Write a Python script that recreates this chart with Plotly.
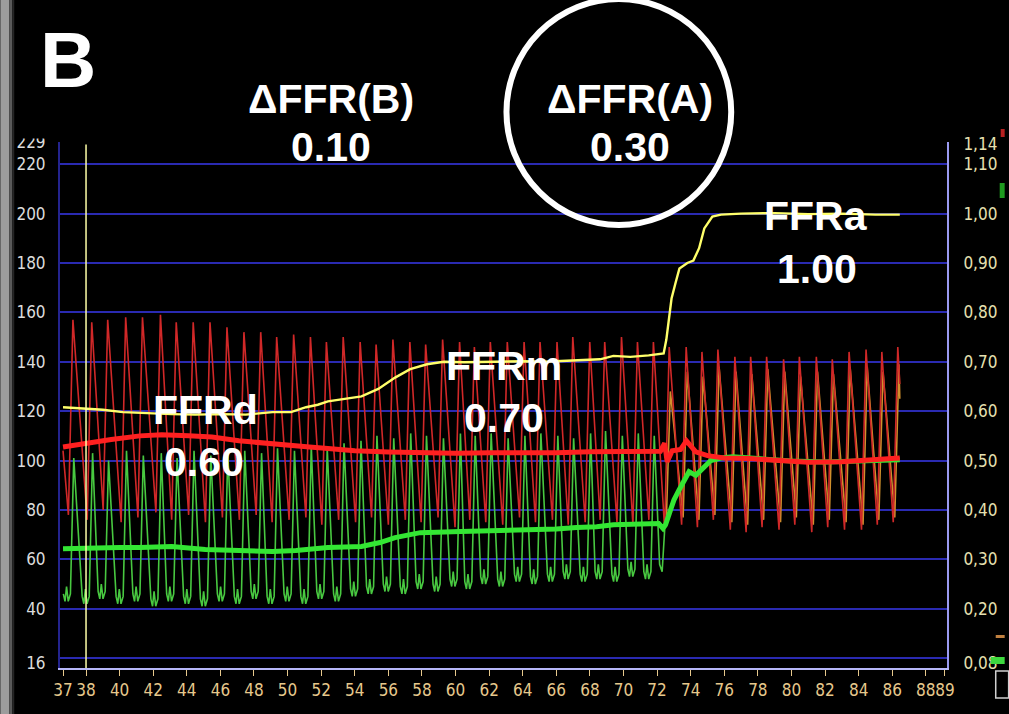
import plotly.graph_objects as go

# ---------------- data ----------------
# beat (systolic peak) times of the aortic pressure trace, seconds
pa_peak_t = [37.22, 38.34, 39.29, 40.36, 41.36, 42.43, 43.37, 44.38, 45.38, 46.39,
             47.40, 48.40, 49.35, 50.36, 51.36, 52.31, 53.31, 54.32, 55.27, 56.27,
             57.28, 58.22, 59.23, 60.24, 61.12, 62.07, 63.08, 64.08, 65.03, 66.04,
             66.98, 67.99, 68.88, 69.88, 70.83, 71.78, 72.72, 73.73, 74.67, 75.62,
             76.63, 77.57, 78.52, 79.53, 80.47, 81.48, 82.43, 83.43, 84.44, 85.38,
             86.33]
# aortic pressure (Pa) per beat, mmHg
pa_systolic = [157, 156, 157, 158, 158, 159, 156, 156, 156, 154,
               152, 152, 150, 151, 150, 148, 150, 148, 147, 149,
               148, 147, 149, 148, 146, 148, 148, 148, 148, 148,
               150, 148, 148, 150, 148, 148, 146, 146, 144, 145,
               142, 142, 142, 141, 142, 142, 141, 144, 145, 144,
               146]
pa_diastolic = [78, 76, 80, 75, 77, 79, 76, 78, 75, 77,
                76, 78, 75, 76, 77, 74, 76, 75, 77, 74,
                76, 75, 77, 73, 76, 75, 74, 77, 75, 76,
                74, 75, 76, 75, 74, 76, 72, 74, 73, 76,
                72, 71, 73, 72, 74, 71, 73, 72, 72, 74,
                75]
pa_start = (36.63, 104)
pa_end = (86.45, 131)

# distal pressure (Pd) per beat before the pullback (first 36 beats)
pd_systolic = [101, 103, 100, 104, 102, 103, 101, 104, 102, 103,
               104, 103, 105, 104, 106, 105, 107, 108, 110, 109,
               111, 110, 109, 111, 110, 111, 109, 110, 111, 110,
               109, 111, 112, 110, 111, 110]
pd_diastolic = [43, 42, 44, 42, 43, 41, 43, 42, 41, 43,
                42, 44, 42, 43, 42, 44, 43, 45, 46, 47,
                46, 48, 47, 49, 48, 50, 49, 51, 50, 51,
                52, 51, 52, 51, 53, 52]
pd_tail_t = [72.15, 72.30, 72.45]
pd_tail_v = [58, 55, 72]
# Pd after the sensor reaches the aorta (beats 37-51)
pd_post_systolic = [128, 136, 134, 138, 136, 135, 137, 136, 134, 136, 135, 137, 138, 136, 139]
pd_post_diastolic = [74, 77, 76, 78, 75, 74, 76, 75, 77, 74, 76, 75, 74, 76, 77]

# mean aortic pressure (Pa mean), mmHg
pa_mean_t = [36.63, 38.2, 39.5, 41.2, 42.5, 44.1, 45.5, 47.1, 48.5, 50.1,
             51.3, 52.4, 54.0, 56.0, 58.0, 60.0, 62.0, 64.0, 66.0, 68.0,
             70.0, 71.5, 72.2, 72.45, 72.6, 72.9, 73.4, 73.75, 74.3, 75.0,
             76.0, 77.5, 79.0, 81.0, 83.0, 85.0, 86.45]
pa_mean_v = [105.5, 107.4, 108.5, 110, 110.5, 110, 109.5, 108, 107, 106,
             105.5, 104.9, 104, 103.5, 103.2, 103, 103.2, 103, 103.2, 103.6,
             103.8, 104, 103.8, 107, 99.5, 104, 104.5, 108, 103.5, 102,
             101, 100.8, 100, 99.3, 99.5, 100.3, 101]

# mean distal pressure (Pd mean), mmHg
pd_mean_t = [36.63, 38.5, 40.0, 41.2, 43.1, 45.1, 47.0, 49.1, 50.5, 52.4,
             54.4, 55.5, 56.4, 57.9, 60.3, 62.3, 64.3, 66.0, 67.2, 68.4,
             69.4, 70.4, 71.5, 72.1, 72.35, 72.5, 72.75, 73.0, 73.3, 73.6,
             73.9, 74.3, 74.7, 75.2, 75.8, 76.5, 78.0, 80.0, 82.0, 84.0,
             86.45]
pd_mean_v = [64.3, 64.8, 64.8, 64.8, 65.2, 64.0, 63.8, 63.2, 63.6, 64.8,
             65.2, 66.8, 68.8, 70.8, 71.3, 71.6, 72.0, 72.3, 72.9, 73.2,
             74.0, 74.0, 74.2, 74.5, 72.5, 74.0, 79.0, 84.0, 88.0, 92.0,
             95.5, 94.0, 97.0, 100.0, 101.0, 101.5, 100.8, 99.8, 99.4, 99.6,
             100.3]

# FFR = Pd/Pa during the pullback
ffr_t = [36.63, 37.8, 39.0, 40.2, 41.5, 43.1, 44.5, 46.1, 47.5, 49.1,
         50.2, 51.1, 51.8, 52.4, 53.4, 54.4, 55.4, 56.4, 57.3, 58.3,
         59.3, 60.5, 62.3, 64.0, 65.3, 67.2, 68.6, 69.4, 70.4, 71.5,
         72.2, 72.39, 72.55, 72.72, 72.86, 73.1, 73.33, 73.8, 74.16, 74.5,
         74.81, 75.29, 75.8, 77.0, 79.0, 81.0, 83.0, 85.0, 86.45]
ffr_v = [0.608, 0.605, 0.603, 0.598, 0.596, 0.594, 0.593, 0.594, 0.593, 0.598,
         0.598, 0.608, 0.613, 0.620, 0.625, 0.630, 0.645, 0.668, 0.685, 0.695,
         0.700, 0.699, 0.700, 0.701, 0.700, 0.703, 0.705, 0.712, 0.710, 0.713,
         0.715, 0.717, 0.745, 0.785, 0.828, 0.86, 0.889, 0.900, 0.905, 0.93,
         0.970, 0.994, 0.998, 1.000, 1.001, 0.999, 1.000, 0.998, 0.998]

ffr_distal = 0.60
ffr_mid = 0.70
ffr_aorta = 1.00
cursor_t = 38

# axis ticks as printed by the console
x_tick_vals = [36.63, 38] + list(range(40, 88, 2)) + [88, 89.14]
x_tick_text = ["37", "38"] + [str(v) for v in range(40, 88, 2)] + ["88", "89"]
y_label_vals = [18, 40, 60, 80, 100, 120, 140, 160, 180, 200, 220, 229]
y_label_text = ["16", "40", "60", "80", "100", "120", "140", "160", "180", "200", "220", "229"]
y_grid_vals = [20, 40, 60, 80, 100, 120, 140, 160, 180, 200, 220, 229]
r_label_vals = [0.09, 0.2, 0.3, 0.4, 0.5, 0.6, 0.7, 0.8, 0.9, 1.0, 1.1, 1.14]
r_label_text = ["0,08", "0,20", "0,30", "0,40", "0,50", "0,60", "0,70", "0,80",
                "0,90", "1,00", "1,10", "1,14"]

# ---------------- waveform assembly ----------------
PA_RISE = 0.27           # upstroke duration of the aortic pulse
PD_LAG = 0.05            # distal pulse arrives slightly later
PD_FOOT_DT = [-0.62, -0.52, -0.43, -0.33, -0.20]   # notched diastolic foot of Pd
PD_FOOT_DV = [3, 0, 6, 0, 3]
POST_LAG = 0.07
POST_RISE = 0.25

pa_x, pa_y = [pa_start[0]], [pa_start[1]]
for t, s, d in zip(pa_peak_t, pa_systolic, pa_diastolic):
    pa_x += [t - PA_RISE, t]
    pa_y += [d, s]
pa_x.append(pa_end[0])
pa_y.append(pa_end[1])

pd_x, pd_y = [], []
for t, s, d in zip(pa_peak_t[:len(pd_systolic)], pd_systolic, pd_diastolic):
    tp = t + PD_LAG
    for dt, dv in zip(PD_FOOT_DT, PD_FOOT_DV):
        pd_x.append(tp + dt)
        pd_y.append(d + dv)
    pd_x.append(tp)
    pd_y.append(s)
pd_x += pd_tail_t
pd_y += pd_tail_v

post_x, post_y = [], []
for t, s, d in zip(pa_peak_t[len(pd_systolic):], pd_post_systolic, pd_post_diastolic):
    tp = t + POST_LAG
    post_x += [tp - POST_RISE, tp]
    post_y += [d, s]
post_x.append(pa_end[0])
post_y.append(pa_end[1] - 6)

# ---------------- figure ----------------
fig = go.Figure()
fig.add_trace(go.Scatter(x=pd_x, y=pd_y, mode="lines",
                         line=dict(color="#48c840", width=1.6), hoverinfo="skip"))
fig.add_trace(go.Scatter(x=post_x, y=post_y, mode="lines",
                         line=dict(color="#d0902c", width=1.6), hoverinfo="skip"))
fig.add_trace(go.Scatter(x=pa_x, y=pa_y, mode="lines",
                         line=dict(color="#d02828", width=1.6), hoverinfo="skip"))
fig.add_trace(go.Scatter(x=pd_mean_t, y=pd_mean_v, mode="lines",
                         line=dict(color="#33e633", width=5), hoverinfo="skip"))
fig.add_trace(go.Scatter(x=pa_mean_t, y=pa_mean_v, mode="lines",
                         line=dict(color="#ff2020", width=5), hoverinfo="skip"))
fig.add_trace(go.Scatter(x=ffr_t, y=ffr_v, mode="lines", yaxis="y2",
                         line=dict(color="#ffff6a", width=2.4), hoverinfo="skip"))

# plot-area geometry (pixels) for placing decorations
L, R, T, B = 60, 952, 142, 668
W, H = 1009, 714


def pxx(xp):
    return (xp - L) / (R - L)


def pxy(yp):
    return (B - yp) / (B - T)


tick_font = dict(family="Liberation Sans Narrow, DejaVu Sans Condensed, Arial Narrow, sans-serif",
                 size=17)

fig.update_layout(
    width=W, height=H,
    margin=dict(l=L, r=W - R, t=T, b=H - B),
    paper_bgcolor="black", plot_bgcolor="black",
    showlegend=False,
    xaxis=dict(range=[36.45, 89.26], tickmode="array", tickvals=x_tick_vals,
               ticktext=x_tick_text, tickangle=0, ticks="outside", ticklen=6, tickwidth=1,
               tickcolor="#e6c88c", tickfont=dict(color="#e6c88c", **tick_font),
               showgrid=False, zeroline=False, showline=True,
               linecolor="#b8b8f8", linewidth=2),
    yaxis=dict(range=[16, 229], tickmode="array", tickvals=y_label_vals,
               ticktext=y_label_text, ticks="", ticklabelstandoff=9,
               tickfont=dict(color="#dcdcdc", **tick_font),
               showgrid=False, zeroline=False, showline=True,
               linecolor="#24248e", linewidth=2,
               minor=dict(tickmode="array", tickvals=y_grid_vals, showgrid=True,
                          gridcolor="#2a2ab2", gridwidth=2, ticks="")),
    yaxis2=dict(range=[16 / 200, 229 / 200], overlaying="y", side="right",
                tickmode="array", tickvals=r_label_vals, ticktext=r_label_text,
                ticks="", ticklabelstandoff=11,
                tickfont=dict(color="#e6e0b0", **tick_font),
                showgrid=False, zeroline=False, showline=True,
                linecolor="#9a9af0", linewidth=2),
)

shapes = [
    # position cursor
    dict(type="line", xref="x", yref="y", x0=cursor_t, x1=cursor_t, y0=16, y1=228,
         line=dict(color="#ffffa8", width=1.5), layer="above"),
    # mask clipping the top of the first label
    dict(type="rect", xref="paper", yref="paper", x0=pxx(0), x1=pxx(56),
         y0=pxy(138.5), y1=pxy(0), fillcolor="black", line=dict(width=0), layer="above"),
    # film edge on the left
    dict(type="rect", xref="paper", yref="paper", x0=pxx(0), x1=pxx(9),
         y0=pxy(H), y1=pxy(0), fillcolor="#9c9c9c", line=dict(width=0), layer="above"),
    dict(type="rect", xref="paper", yref="paper", x0=pxx(9), x1=pxx(12),
         y0=pxy(H), y1=pxy(0), fillcolor="#5a5a5a", line=dict(width=0), layer="above"),
    dict(type="rect", xref="paper", yref="paper", x0=pxx(12), x1=pxx(14),
         y0=pxy(H), y1=pxy(0), fillcolor="#262626", line=dict(width=0), layer="above"),
    # highlight ring round the pullback gradient
    dict(type="circle", xref="paper", yref="paper", x0=pxx(509), x1=pxx(735),
         y0=pxy(225), y1=pxy(-1), line=dict(color="white", width=6), layer="above"),
    # console legend fragments at the right edge
    dict(type="rect", xref="paper", yref="paper", x0=pxx(996), x1=pxx(1010),
         y0=pxy(664), y1=pxy(657), fillcolor="#3ed83e", line=dict(width=0)),
    dict(type="rect", xref="paper", yref="paper", x0=pxx(1001), x1=pxx(1010),
         y0=pxy(638), y1=pxy(635), fillcolor="#c08040", line=dict(width=0)),
    dict(type="rect", xref="paper", yref="paper", x0=pxx(1001), x1=pxx(1014),
         y0=pxy(698), y1=pxy(671), line=dict(color="#d0d0d0", width=1.5)),
    dict(type="rect", xref="paper", yref="paper", x0=pxx(1005), x1=pxx(1010),
         y0=pxy(198), y1=pxy(183), fillcolor="#1f9a1f", line=dict(width=0)),
    dict(type="rect", xref="paper", yref="paper", x0=pxx(1006), x1=pxx(1010),
         y0=pxy(137), y1=pxy(129), fillcolor="#b82020", line=dict(width=0)),
]
fig.update_layout(shapes=shapes)

label_font = dict(family="Liberation Sans, Arial, sans-serif", size=41, color="white")


def label(text, xp, yp, size=None):
    f = dict(label_font)
    if size:
        f["size"] = size
    fig.add_annotation(x=pxx(xp), y=pxy(yp), xref="paper", yref="paper",
                       text=f"<b>{text}</b>", showarrow=False,
                       xanchor="center", yanchor="middle", font=f)


label("B", 68, 60, size=78)
label("ΔFFR(B)", 333, 99)
label(f"{ffr_mid - ffr_distal:.2f}", 333, 147)
label("ΔFFR(A)", 633, 99)
label(f"{ffr_aorta - ffr_mid:.2f}", 633, 147)
label("FFRa", 820, 216)
label(f"{ffr_aorta:.2f}", 821, 269)
label("FFRm", 506, 366)
label(f"{ffr_mid:.2f}", 507, 418)
label("FFRd", 206, 410)
label(f"{ffr_distal:.2f}", 205, 462)

fig.write_html("out.html")
